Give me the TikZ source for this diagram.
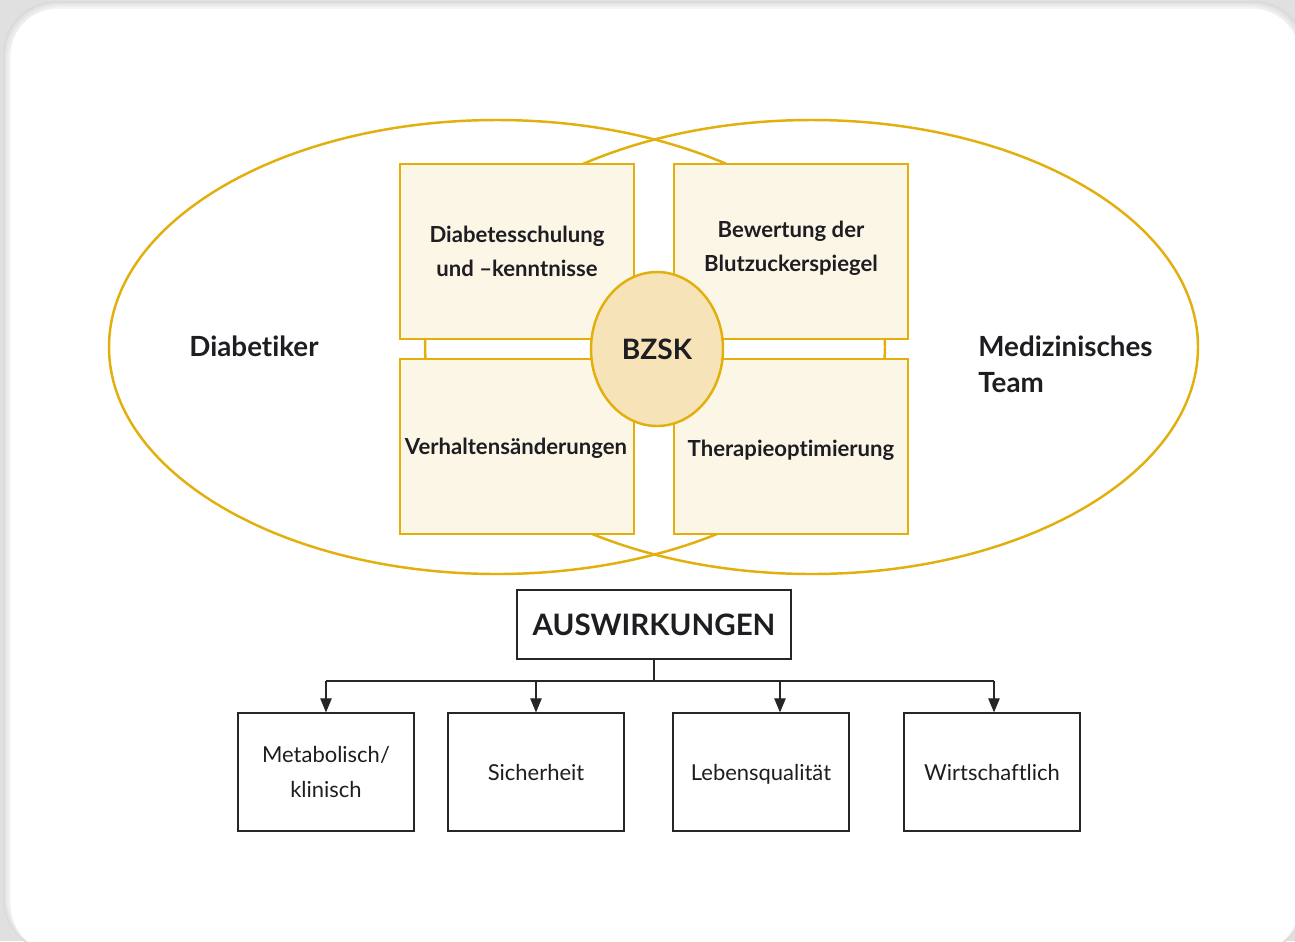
\documentclass[tikz,border=0pt]{standalone}
\usepackage{fontspec}
\setmainfont[Ligatures=NoCommon]{Lato}
\usetikzlibrary{arrows.meta,shapes.geometric}
\definecolor{gold}{RGB}{226,175,12}
\definecolor{cream}{RGB}{252,246,231}
\definecolor{bzfill}{RGB}{246,228,184}
\definecolor{txt}{RGB}{30,30,34}
\tikzset{
  goldline/.style={draw=gold, line width=1.4pt},
  quad/.style={goldline, fill=cream, minimum width=234*0.02cm, minimum height=175*0.02cm, inner sep=0pt},
  quadtext/.style={font=\fontsize{12.6}{19.3}\selectfont\bfseries, text=txt, align=center},
  outbox/.style={draw=black!85, line width=0.7pt, fill=white, minimum width=176*0.02cm, minimum height=118*0.02cm, inner sep=0pt, font=\fontsize{12.5}{19.8}\selectfont, text=txt, align=center},
  arr/.style={draw=black!85, line width=0.6pt, -{Triangle[length=8pt,width=6.5pt]}},
}
\begin{document}
\begin{tikzpicture}[x=0.02cm,y=-0.02cm]
\useasboundingbox (0,0) rectangle (1295,941);
\clip (0,0) rectangle (1295,941);
% background frame
\fill[black!12] (0,0) rectangle (1295,941);
\foreach \i/\c in {8/black!14,6/black!10,4/black!7,2/black!4}{
  \fill[\c, rounded corners=30] (11-\i,9-\i) rectangle (1299+\i,952);
}
\fill[white, rounded corners=26] (11,9) rectangle (1299,952);

% big ellipses
\draw[goldline] (497,347) ellipse [x radius=388, y radius=227];
\draw[goldline] (811.5,347) ellipse [x radius=386.5, y radius=227];

% four boxes
\node[quad] (q1) at (517,251.5) {};
\node[quad] (q2) at (791,251.5) {};
\node[quad] (q3) at (517,446.5) {};
\node[quad] (q4) at (791,446.5) {};

\node[quadtext] (t1) at (517,251) {Diabetesschulung\\und –kenntnisse};
\node[quadtext] (t2) at (791,248) {Bewertung der\\Blutzuckerspiegel};
\node[quadtext] (t3) at (516,448) {Verhaltensänderungen};
\node[quadtext] (t4) at (791,450) {Therapieoptimierung};

% centre
\node[ellipse, goldline, fill=bzfill, minimum width=132*0.02cm, minimum height=154*0.02cm, inner sep=0pt,
      font=\fontsize{16}{18}\selectfont\bfseries, text=txt] (bzsk) at (657,349) {BZSK};

% side labels
\node[font=\fontsize{15.8}{18}\selectfont\bfseries, text=txt] (dia) at (254,346) {Diabetiker};
\node[font=\fontsize{15.8}{20.5}\selectfont\bfseries, text=txt, align=left, anchor=west, inner sep=0pt] (med) at (978,364) {Medizinisches\\Team};

% impacts
\node[draw=black!85, line width=0.7pt, fill=white, minimum width=274*0.02cm, minimum height=69*0.02cm, inner sep=0pt,
      font=\fontsize{16.8}{19}\selectfont\bfseries, text=txt] (aus) at (654,624.5) {AUSWIRKUNGEN};

\node[outbox] (b1) at (326,772) {Metabolisch/\\klinisch};
\node[outbox] (b2) at (536,772) {Sicherheit};
\node[outbox] (b3) at (761,772) {\vphantom{h}\smash{Lebensqualität}};
\node[outbox] (b4) at (992,772) {Wirtschaftlich};

\coordinate (j) at (654,681);
\coordinate (jl) at (326,681);
\coordinate (jr) at (994,681);
\draw[draw=black!85, line width=0.6pt] (aus.south) -- (j);
\draw[draw=black!85, line width=0.6pt] (jl) -- (jr);
\draw[arr] (jl) -- (jl |- b1.north);
\draw[arr] (536,681) -- (536,681 |- b2.north);
\draw[arr] (780,681) -- (780,681 |- b3.north);
\draw[arr] (jr) -- (jr |- b4.north);
\end{tikzpicture}
\end{document}
